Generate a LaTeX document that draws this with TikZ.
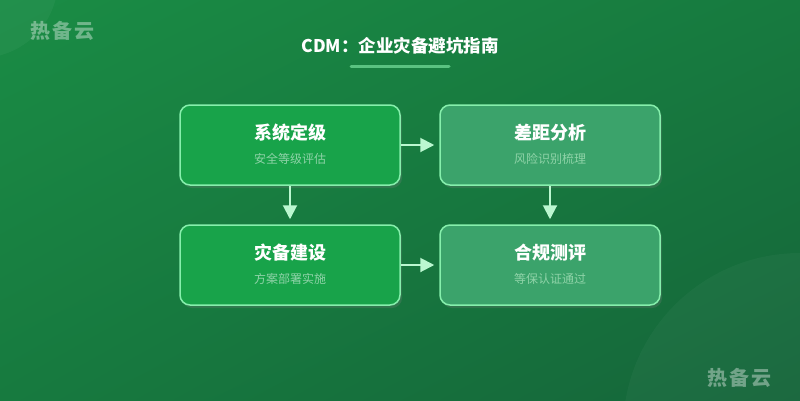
\documentclass[tikz,border=0pt]{standalone}
\usepackage{fontspec}
\setmainfont{Noto Sans CJK SC}
\newfontfamily\spacedfont[LetterSpace=12]{Noto Sans CJK SC}
\usetikzlibrary{arrows.meta,shadows,shadings}

\definecolor{bgTop}{HTML}{1A8C45}
\definecolor{bgBottom}{HTML}{15653A}
\definecolor{bgMid}{HTML}{177A3F}
\definecolor{boxDark}{HTML}{18A34A}
\definecolor{boxLight}{HTML}{3BA36B}
\definecolor{boxEdge}{HTML}{86EFAC}
\definecolor{arrowCol}{HTML}{BBF7D0}
\definecolor{subCol}{HTML}{8FD3A8}

\tikzset{
  stagebox/.style={draw=boxEdge, line width=1.5pt, rounded corners=10pt,
    minimum width=220pt, minimum height=80pt, inner sep=0pt,
    drop shadow={opacity=0.25, shadow xshift=2pt, shadow yshift=-3pt}},
  stagetitle/.style={text=white, font=\fontsize{18}{20}\selectfont\bfseries},
  stagesub/.style={text=subCol, font=\fontsize{12}{14}\selectfont},
  flow/.style={draw=arrowCol, line width=2pt, shorten >=5pt,
    -{Triangle[width=14pt,length=14pt]}},
  watermark/.style={text=white, opacity=0.38, font=\spacedfont\fontsize{20}{22}\selectfont\bfseries}
}

\begin{document}
\begin{tikzpicture}[x=1pt,y=-1pt]
  \useasboundingbox (0,0) rectangle (800,400);

  % Background
  \shade[upper left=bgTop, upper right=bgMid, lower left=bgMid, lower right=bgBottom]
    (0,0) rectangle (800,400);
  \begin{scope}
    \clip (0,0) rectangle (800,400);
    \fill[white, opacity=0.04] (-20,-20) circle (78);
    \fill[white, opacity=0.03] (800,430) circle (177);
  \end{scope}

  % Watermarks
  \node[watermark, anchor=west, inner sep=0pt] (markTL) at (30,31) {热备云};
  \node[watermark, anchor=east, inner sep=0pt] (markBR) at (772,378) {热备云};

  % Title
  \node[text=white, font=\fontsize{17.5}{20}\selectfont\bfseries] (title) at (400,46) {CDM：企业灾备避坑指南};
  \draw[boxEdge, opacity=0.6, line width=3pt, line cap=round] (351,66) -- (449,66);

  % Boxes
  \node[stagebox, fill=boxDark] (grade) at (290,145) {};
  \node[stagebox, fill=boxLight] (gap) at (550,145) {};
  \node[stagebox, fill=boxDark] (build) at (290,265) {};
  \node[stagebox, fill=boxLight] (check) at (550,265) {};

  \node[stagetitle] at (290,133) {系统定级};
  \node[stagesub] at (290,159) {安全等级评估};
  \node[stagetitle] at (550,133) {差距分析};
  \node[stagesub] at (550,159) {风险识别梳理};
  \node[stagetitle] at (290,253) {灾备建设};
  \node[stagesub] at (290,279) {方案部署实施};
  \node[stagetitle] at (550,253) {合规测评};
  \node[stagesub] at (550,279) {等保认证通过};

  % Arrows
  \draw[flow] (grade) -- (gap);
  \draw[flow] (build) -- (check);
  \draw[flow] (grade) -- (build);
  \draw[flow] (gap) -- (check);
\end{tikzpicture}
\end{document}
